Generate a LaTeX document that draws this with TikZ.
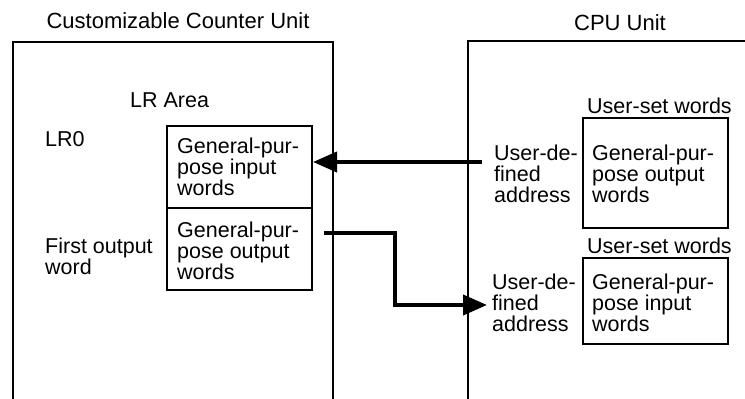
\documentclass[tikz,border=0pt]{standalone}
\usepackage{fontspec}
\setmainfont{Liberation Sans}
\usetikzlibrary{arrows.meta}
\begin{document}
\begin{tikzpicture}[x=1pt,y=-1pt,
  txt/.style={font=\fontsize{21.5}{21}\selectfont, inner sep=0pt, align=left},
  ttl/.style={font=\fontsize{22}{22}\selectfont, inner sep=0pt},
  wbox/.style={draw, line width=2pt, inner sep=0pt, anchor=north west, minimum width=145pt},
  unit/.style={line width=2pt},
  flow/.style={line width=4pt, -{Triangle[length=24pt,width=20pt]}}]
\useasboundingbox (0,0) rectangle (745,399);
% unit titles
\node[ttl, anchor=base] (t1) at (178,28) {Customizable Counter Unit};
\node[ttl, anchor=base] (t2) at (620,30) {CPU Unit};
% unit outlines
\draw[unit] (13,399) |- (333,42) -- (333,399);
\draw[unit] (468,399) |- (745,41);
% word boxes
\node[wbox, minimum height=82pt] (inbox) at (166,125) {};
\node[wbox, minimum height=82pt] (outbox) at (166,207) {};
\node[wbox, minimum height=110pt] (cpu1) at (582,117) {};
\node[wbox, minimum height=86pt] (cpu2) at (582,257) {};
% labels (base = baseline of the last line)
\node[txt, anchor=base west] (lrarea) at (130,107) {LR Area};
\node[txt, anchor=base west] (lr0) at (45,146) {LR0};
\node[txt, anchor=base west] (intxt) at (177,195) {General-pur-\\pose input\\words};
\node[txt, anchor=base west] (outtxt) at (177,279) {General-pur-\\pose output\\words};
\node[txt, anchor=base west] (first) at (45,274) {First output\\word};
\node[txt, anchor=base west] (us1) at (587,113) {User-set words};
\node[txt, anchor=base west] (ud1) at (494,202) {User-de-\\fined\\address};
\node[txt, anchor=base west] (g1) at (592,202) {General-pur-\\pose output\\words};
\node[txt, anchor=base west] (us2) at (587,253) {User-set words};
\node[txt, anchor=base west] (ud2) at (492,331) {User-de-\\fined\\address};
\node[txt, anchor=base west] (g2) at (592,331) {General-pur-\\pose input\\words};
% data flow arrows
\coordinate (a1) at (482,162);
\draw[flow] (a1) -- (a1 -| inbox.east);
\coordinate (a2s) at (324,233);
\coordinate (a2e) at (487,305);
\draw[flow] (a2s) -- (395,233) |- (a2e);
\end{tikzpicture}
\end{document}
